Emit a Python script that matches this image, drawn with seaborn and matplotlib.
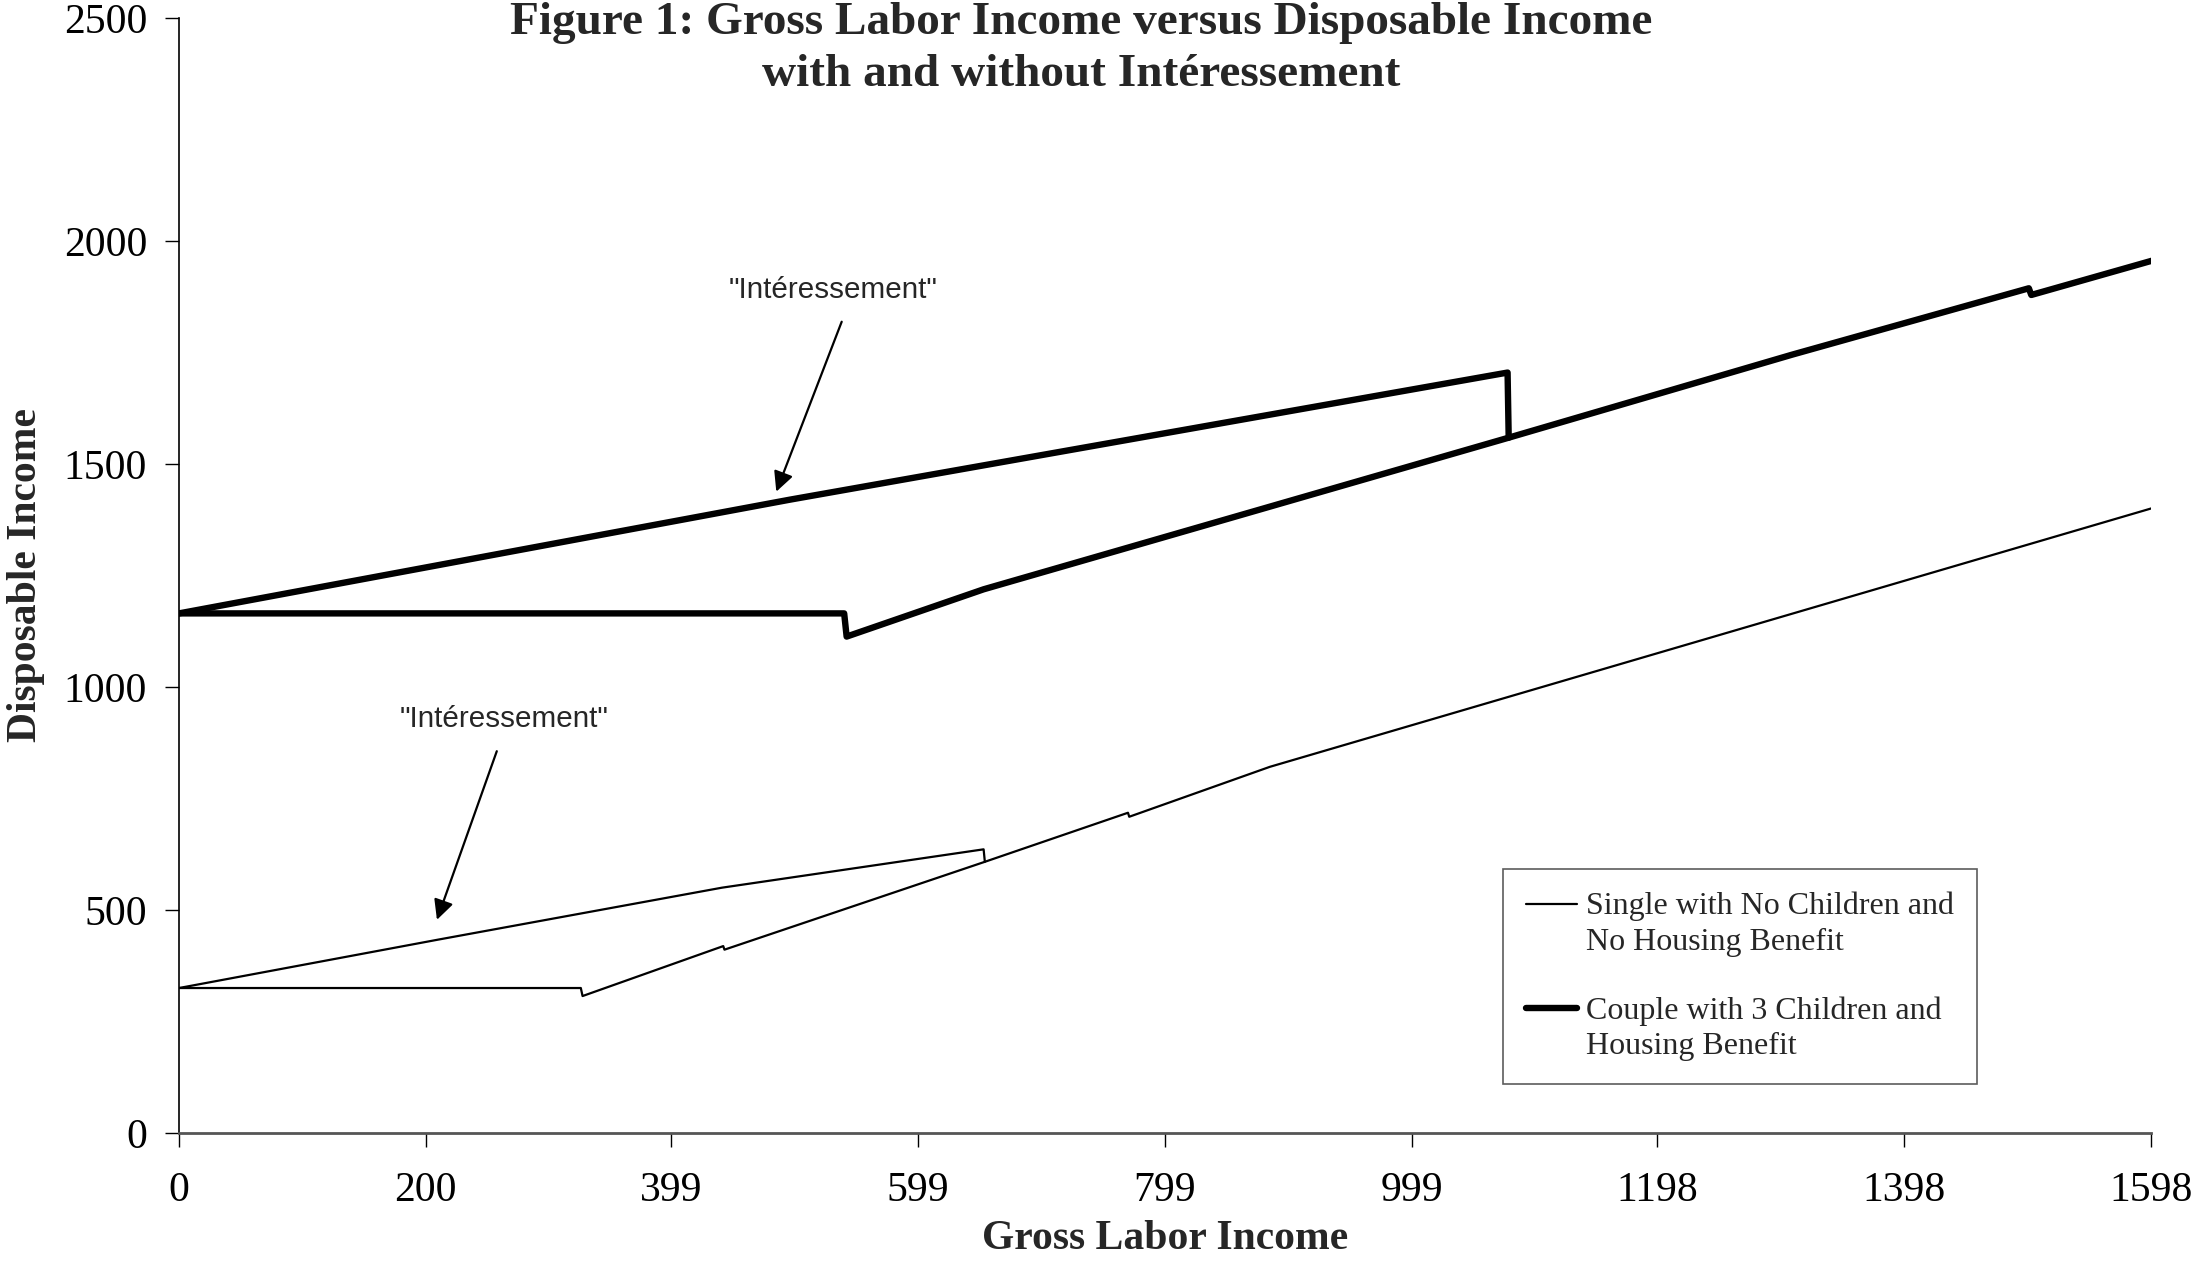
import matplotlib
matplotlib.use("Agg")
import matplotlib.pyplot as plt
from matplotlib.lines import Line2D
from matplotlib.legend_handler import HandlerLine2D
import seaborn as sns

# ================= DATA =================
# single, no children, no housing benefit
single_with_x = [0, 209, 440, 652, 653]
single_with_y = [325, 433, 550, 636, 608]
single_without_x = [0, 325.6, 327, 441, 442, 653, 769, 770, 884, 1599]
single_without_y = [325, 325, 307, 419, 411, 608, 718, 709, 821, 1401]

# couple, 3 children, housing benefit
couple_with_x = [0, 495, 1076.6, 1077.5]
couple_with_y = [1165, 1420, 1705, 1559]
couple_without_x = [0, 539, 541, 652, 1077.5, 1307, 1499, 1501, 1599]
couple_without_y = [1165, 1165, 1113, 1219, 1559, 1745, 1894, 1879, 1956]

x_tick_labels = ["0", "200", "399", "599", "799", "999", "1198", "1398", "1598"]
y_ticks = [0, 500, 1000, 1500, 2000, 2500]

label_single = "Single with No Children and\nNo Housing Benefit"
label_couple = "Couple with 3 Children and\nHousing Benefit"

# annotation anchors (text, arrow tail, arrow tip)
ann_upper = ((530, 1890), (537, 1819), (484, 1438))
ann_lower = ((263, 928), (257.5, 856), (209, 478))


class FirstLineHandler(HandlerLine2D):
    # put the legend line next to the first line of a two-line label
    def create_artists(self, legend, orig_handle, xdescent, ydescent,
                       width, height, fontsize, trans):
        artists = super().create_artists(legend, orig_handle, xdescent, ydescent,
                                         width, height, fontsize, trans)
        for a in artists:
            a.set_ydata(a.get_ydata() + 0.65 * fontsize)
        return artists


# ================= STYLE =================
sns.set_style("ticks")
plt.rcParams["font.family"] = ["Liberation Serif", "DejaVu Serif"]

fig = plt.figure(figsize=(21.94, 12.86), dpi=100)
ax = fig.add_axes([0.0816, 0.119, 0.8988, 0.867])

thin = 1.6
thick = 4.6
sns.lineplot(x=single_with_x, y=single_with_y, sort=False, estimator=None,
             color="black", linewidth=thin, ax=ax)
sns.lineplot(x=single_without_x, y=single_without_y, sort=False, estimator=None,
             color="black", linewidth=thin, ax=ax, label=label_single)
sns.lineplot(x=couple_with_x, y=couple_with_y, sort=False, estimator=None,
             color="black", linewidth=thick, ax=ax)
sns.lineplot(x=couple_without_x, y=couple_without_y, sort=False, estimator=None,
             color="black", linewidth=thick, ax=ax, label=label_couple)

ax.set_xlim(0, 1598)
ax.set_ylim(0, 2500)
ax.set_xticks([float(t) for t in x_tick_labels])
ax.set_xticklabels(x_tick_labels)
ax.set_yticks(y_ticks)
ax.tick_params(axis="x", labelsize=30, length=10, width=1, pad=18, colors="black")
ax.tick_params(axis="y", labelsize=30, length=10, width=1, pad=13, colors="black")

sns.despine(ax=ax)
ax.spines["left"].set_color("black")
ax.spines["left"].set_linewidth(1.2)
ax.spines["bottom"].set_color("#555555")
ax.spines["bottom"].set_linewidth(2)

ax.set_xlabel("Gross Labor Income", fontsize=30, fontweight="bold")
ax.set_ylabel("Disposable Income", fontsize=30, fontweight="bold")
ax.xaxis.set_label_coords(0.5, -0.078)
ax.yaxis.set_label_coords(-0.068, 0.5)

fig.text(0.493, 0.962,
         "Figure 1: Gross Labor Income versus Disposable Income\nwith and without Intéressement",
         ha="center", va="center", fontsize=34, fontweight="bold", linespacing=1.33)

# annotations
for (txt, tail, tip) in [ann_upper, ann_lower]:
    ax.text(txt[0], txt[1], "\"Intéressement\"", ha="center", va="center",
            fontsize=21.3, family=["Liberation Sans", "DejaVu Sans"])
    ax.annotate("", xy=tip, xytext=tail,
                arrowprops=dict(arrowstyle="-|>,head_length=0.6,head_width=0.3",
                                color="black", lw=1.6, mutation_scale=20,
                                shrinkA=0, shrinkB=0))

leg = ax.legend(loc="upper left", bbox_to_anchor=(0.6714, 0.2368),
                borderaxespad=0, fontsize=23, frameon=True, fancybox=False,
                handlelength=1.6, handletextpad=0.27, labelspacing=1.23,
                borderpad=0.72, handler_map={Line2D: FirstLineHandler()})
for t in leg.get_texts():
    t.set_linespacing(1.3)
leg.get_frame().set_edgecolor("#333333")
leg.get_frame().set_linewidth(1.2)

fig.savefig("out.png", dpi=100)
